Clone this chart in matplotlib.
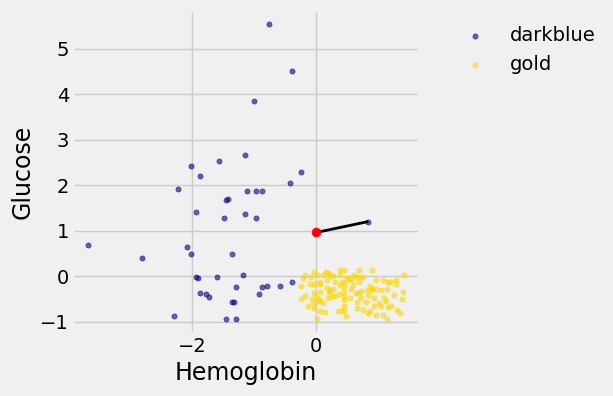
import matplotlib
matplotlib.use("Agg")
import matplotlib.pyplot as plt
import numpy as np

plt.style.use("fivethirtyeight")

darkblue_hemo = [-0.76, -0.39, -1.00, -1.15, -2.02, -1.57, -1.87, -0.245, -0.42, -2.23,
                 -1.12, -0.97, -0.87, -1.45, -1.42, -1.94, -1.49, -1.15, -0.97, -3.68,
                 -2.81, -2.08, -2.02, -1.36, -1.94, -1.91, -1.60, -1.18, -1.29, -1.87,
                 -1.78, -1.73, -1.36, -1.33, -0.92, -2.29, -1.45, -1.29, 0.84, -0.39,
                 -0.58, -0.79, -0.87]
darkblue_gluc = [5.54, 4.51, 3.85, 2.66, 2.42, 2.53, 2.20, 2.28, 2.04, 1.91,
                 1.87, 1.87, 1.87, 1.67, 1.69, 1.42, 1.27, 1.36, 1.27, 0.68,
                 0.39, 0.63, 0.48, 0.48, -0.03, -0.05, -0.03, 0.02, -0.23, -0.38,
                 -0.40, -0.45, -0.56, -0.58, -0.40, -0.87, -0.95, -0.95, 1.20, -0.14,
                 -0.21, -0.21, -0.23]

gold_hemo = [-0.035, 0.148, 0.185, 0.379, 0.449, 0.696, 0.901, -0.185, -0.083, 0.003,
             0.105, 0.218, 0.272, 0.379, 0.605, 0.637, 0.712, 0.755, 1.417, -0.212,
             0.056, 0.304, 0.411, 0.487, 0.530, 0.556, 0.685, 0.965, 1.078, 1.153,
             1.185, 1.288, -0.250, -0.099, -0.035, 0.062, 0.175, 0.460, 0.384, 0.594,
             0.868, 1.282, 0.169, 0.223, 0.272, 0.444, 0.567, 0.723, 0.820, 0.901,
             0.970, 1.142, 1.406, -0.035, 0.056, 0.454, 0.304, 0.202, 0.363, 0.632,
             0.691, 0.836, 0.895, 1.040, -0.245, -0.185, -0.073, 0.003, 0.056, -0.056,
             0.030, 0.110, 0.180, 0.245, 0.449, 0.449, 0.540, 0.723, 0.798, 0.933,
             1.099, 1.121, 1.250, 1.384, 0.648, -0.132, -0.035, 0.062, 0.142, 0.347,
             0.406, 0.449, 0.449, 0.659, 0.755, 0.868, 0.927, 1.013, 1.040, 1.164,
             1.207, 1.309, 1.347, 0.836, 0.003, 0.481, 0.965, 1.078, 1.142]
gold_gluc = [0.088, 0.088, 0.059, 0.132, 0.132, 0.125, 0.125, 0.015, -0.029, 0.015,
             0.015, 0.015, -0.007, 0.015, 0.015, -0.029, -0.029, -0.029, 0.015, -0.051,
             -0.140, -0.140, -0.140, -0.051, -0.051, -0.088, -0.140, -0.095, -0.095, -0.140,
             -0.140, -0.095, -0.228, -0.184, -0.184, -0.184, -0.095, -0.140, -0.206, -0.206,
             -0.228, -0.184, -0.272, -0.316, -0.294, -0.250, -0.294, -0.338, -0.316, -0.294,
             -0.294, -0.294, -0.360, -0.382, -0.360, -0.360, -0.433, -0.360, -0.404, -0.382,
             -0.382, -0.426, -0.316, -0.316, -0.514, -0.448, -0.514, -0.492, -0.536, -0.602,
             -0.558, -0.602, -0.492, -0.448, -0.448, -0.536, -0.492, -0.492, -0.580, -0.492,
             -0.492, -0.558, -0.426, -0.514, -0.580, -0.668, -0.712, -0.778, -0.800, -0.778,
             -0.778, -0.668, -0.756, -0.712, -0.756, -0.778, -0.668, -0.602, -0.668, -0.690,
             -0.668, -0.756, -0.822, -0.822, -0.954, -0.888, -0.866, -0.866, -0.954]

new_point = [0.0, 0.96]
nearest_point = [0.84, 1.20]

fig = plt.figure(figsize=(6.13, 3.96), dpi=100)
fig.patch.set_facecolor("#f0f0f0")
ax = fig.add_axes([74/613, 64/396, (418-74)/613, (332-12)/396])
ax.set_facecolor("#f0f0f0")

ax.scatter(darkblue_hemo, darkblue_gluc, s=14, color="darkblue", alpha=0.6, label="darkblue", zorder=3)
ax.scatter(gold_hemo, gold_gluc, s=14, color="gold", alpha=0.6, label="gold", zorder=3)
ax.plot([new_point[0], nearest_point[0]], [new_point[1], nearest_point[1]], color="black", lw=2, zorder=4)
ax.scatter([new_point[0]], [new_point[1]], s=40, color="red", zorder=5)

ax.set_xlim(-3.91, 1.64)
ax.set_ylim(-1.23, 5.81)
ax.set_xticks([-2, 0])
ax.set_yticks([-1, 0, 1, 2, 3, 4, 5])
ax.tick_params(labelsize=14)
ax.set_xlabel("Hemoglobin", fontsize=17)
ax.set_ylabel("Glucose", fontsize=17)
ax.grid(True, color="#cbcbcb", lw=1)
for sp in ax.spines.values():
    sp.set_visible(False)

ax.legend(loc="upper left", bbox_to_anchor=(1.057, 1.012), frameon=False, fontsize=14,
          markerscale=1, scatterpoints=1, labelspacing=0.55)

fig.savefig("out.png", dpi=100, facecolor=fig.get_facecolor())
